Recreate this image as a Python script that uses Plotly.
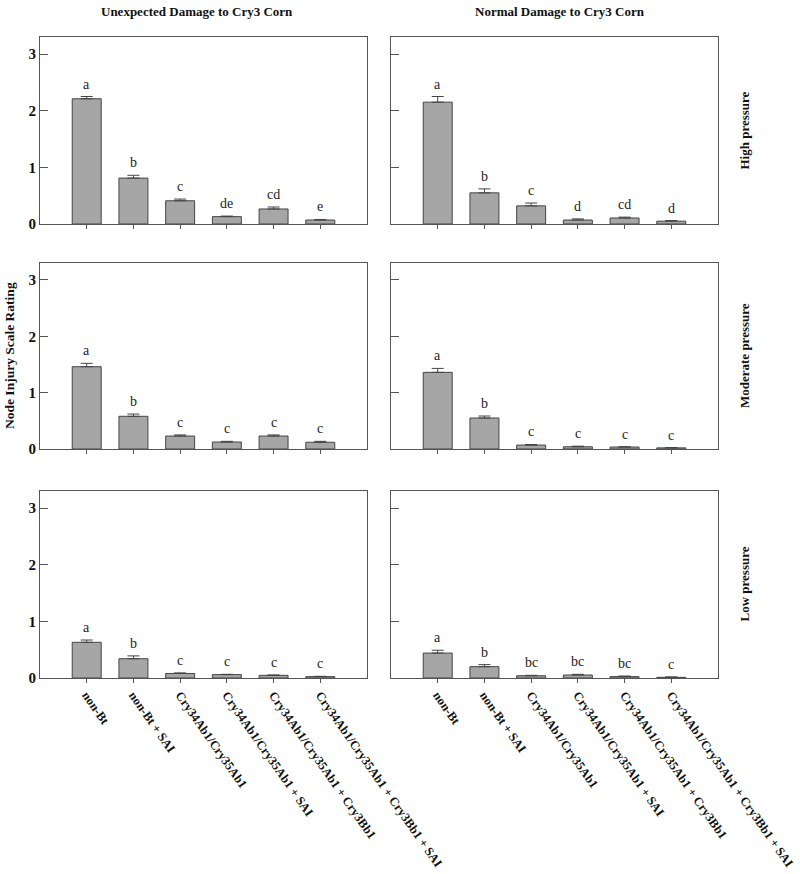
import plotly.graph_objects as go

categories = ["non-Bt", "non-Bt + SAI", "Cry34Ab1/Cry35Ab1", "Cry34Ab1/Cry35Ab1 + SAI",
              "Cry34Ab1/Cry35Ab1 + Cry3Bb1", "Cry34Ab1/Cry35Ab1 + Cry3Bb1 + SAI"]
col_titles = ["Unexpected Damage to Cry3 Corn", "Normal Damage to Cry3 Corn"]
row_titles = ["High pressure", "Moderate pressure", "Low pressure"]
y_title = "Node Injury Scale Rating"
y_ticks = [0, 1, 2, 3]

# means and upper error (SE) per panel
unexp_high = [2.21, 0.81, 0.41, 0.13, 0.265, 0.07]
unexp_high_err = [0.04, 0.05, 0.03, 0.01, 0.035, 0.01]
unexp_high_let = ["a", "b", "c", "de", "cd", "e"]
norm_high = [2.15, 0.55, 0.32, 0.07, 0.106, 0.05]
norm_high_err = [0.10, 0.07, 0.05, 0.02, 0.015, 0.01]
norm_high_let = ["a", "b", "c", "d", "cd", "d"]

unexp_mod = [1.46, 0.58, 0.23, 0.124, 0.23, 0.12]
unexp_mod_err = [0.06, 0.04, 0.02, 0.012, 0.02, 0.016]
unexp_mod_let = ["a", "b", "c", "c", "c", "c"]
norm_mod = [1.36, 0.55, 0.07, 0.04, 0.035, 0.02]
norm_mod_err = [0.07, 0.035, 0.01, 0.01, 0.005, 0.005]
norm_mod_let = ["a", "b", "c", "c", "c", "c"]

unexp_low = [0.63, 0.34, 0.08, 0.06, 0.047, 0.024]
unexp_low_err = [0.04, 0.05, 0.01, 0.005, 0.006, 0.006]
unexp_low_let = ["a", "b", "c", "c", "c", "c"]
norm_low = [0.44, 0.20, 0.04, 0.053, 0.024, 0.012]
norm_low_err = [0.05, 0.036, 0.007, 0.012, 0.011, 0.006]
norm_low_let = ["a", "b", "bc", "bc", "bc", "c"]

panels = [
    [(unexp_high, unexp_high_err, unexp_high_let), (norm_high, norm_high_err, norm_high_let)],
    [(unexp_mod, unexp_mod_err, unexp_mod_let), (norm_mod, norm_mod_err, norm_mod_let)],
    [(unexp_low, unexp_low_err, unexp_low_let), (norm_low, norm_low_err, norm_low_let)],
]

W, H = 800, 874
FONT = "Liberation Serif"
LINE = "#555555"


def px_x(X):
    return X / W


def px_y(Y):
    return 1 - Y / H


x_doms = [(px_x(40), px_x(367)), (px_x(391), px_x(718))]
y_px = [(37, 224), (263, 449), (491, 678)]
y_doms = [(px_y(b), px_y(t)) for (t, b) in y_px]

fig = go.Figure()
annotations = []
idx = 0
x_idx = list(range(len(categories)))
for r in range(3):
    for c in range(2):
        idx += 1
        vals, errs, lets = panels[r][c]
        xa = "x" if idx == 1 else f"x{idx}"
        ya = "y" if idx == 1 else f"y{idx}"
        fig.add_trace(go.Bar(
            x=x_idx, y=vals, xaxis=xa, yaxis=ya, width=0.62,
            marker=dict(color="#a6a6a6", line=dict(color="#444444", width=1)),
            error_y=dict(type="data", symmetric=False, array=errs,
                         arrayminus=[0] * len(errs), color="#444444",
                         thickness=1, width=6),
            showlegend=False, hoverinfo="skip"))
        for i, (v, e, l) in enumerate(zip(vals, errs, lets)):
            annotations.append(dict(x=i, y=v + e, xref=xa, yref=ya, text=l,
                                    showarrow=False, xanchor="center",
                                    yanchor="bottom", yshift=3,
                                    font=dict(family=FONT, size=14, color="#222")))
        axkey_x = "xaxis" if idx == 1 else f"xaxis{idx}"
        axkey_y = "yaxis" if idx == 1 else f"yaxis{idx}"
        fig.layout[axkey_x] = dict(
            domain=x_doms[c], anchor=ya, range=[-1, 6],
            tickmode="array", tickvals=x_idx,
            ticktext=[f"<b>{t}</b>" for t in categories],
            showticklabels=(r == 2), tickangle=55,
            ticklabeloverflow="allow",
            ticks="outside", ticklen=4, tickcolor=LINE,
            showline=True, linecolor=LINE, linewidth=1, mirror=True,
            showgrid=False, zeroline=False, automargin=False,
            tickfont=dict(family=FONT, size=12.5, color="#111"))
        fig.layout[axkey_y] = dict(
            domain=y_doms[r], anchor=xa, range=[0, 3.3],
            tickmode="array", tickvals=y_ticks,
            ticktext=[f"<b>{t}</b>" for t in y_ticks],
            showticklabels=(c == 0),
            ticks="inside", ticklen=8, tickcolor=LINE,
            showline=True, linecolor=LINE, linewidth=1, mirror=True,
            showgrid=False, zeroline=False, automargin=False,
            tickfont=dict(family=FONT, size=15, color="#111"))

title_x = [197, 560]
for c, t in enumerate(col_titles):
    annotations.append(dict(x=px_x(title_x[c]), y=px_y(12), xref="paper", yref="paper",
                            text=f"<b>{t}</b>", showarrow=False,
                            xanchor="center", yanchor="middle",
                            font=dict(family=FONT, size=13, color="#111")))
for r, t in enumerate(row_titles):
    cy = (y_doms[r][0] + y_doms[r][1]) / 2
    annotations.append(dict(x=px_x(744), y=cy, xref="paper", yref="paper",
                            text=f"<b>{t}</b>", showarrow=False, textangle=-90,
                            xanchor="center", yanchor="middle",
                            font=dict(family=FONT, size=13, color="#111")))
annotations.append(dict(x=px_x(9), y=(y_doms[1][0] + y_doms[1][1]) / 2,
                        xref="paper", yref="paper", text=f"<b>{y_title}</b>",
                        showarrow=False, textangle=-90,
                        xanchor="center", yanchor="middle",
                        font=dict(family=FONT, size=13.5, color="#111")))

fig.update_layout(width=W, height=H, margin=dict(l=0, r=0, t=0, b=0),
                  plot_bgcolor="white", paper_bgcolor="white",
                  annotations=annotations, bargap=0.38)
fig.write_html("out.html", config={"displayModeBar": False},
               post_script="document.body.style.margin='0';document.body.style.overflow='hidden';")
